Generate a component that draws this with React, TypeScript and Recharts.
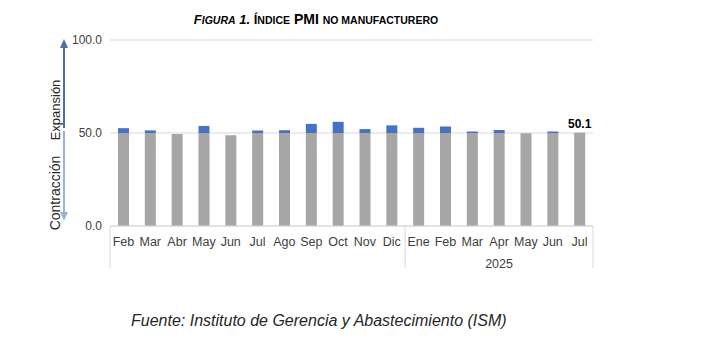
import { Bar, BarChart, CartesianGrid, LabelList, XAxis, YAxis } from "recharts";

const months = ["Feb", "Mar", "Abr", "May", "Jun", "Jul", "Ago", "Sep", "Oct", "Nov", "Dic", "Ene", "Feb", "Mar", "Apr", "May", "Jun", "Jul"];
const pmi = [52.6, 51.4, 49.4, 53.8, 48.8, 51.4, 51.5, 54.9, 56.0, 52.1, 54.1, 52.8, 53.5, 50.8, 51.6, 49.9, 50.8, 50.1];
const yearLabel = "2025";
const yearStart = 11; // Ene
const yTicks = [0, 50, 100];
const threshold = 50;

const W = 718;
const H = 338;
const margin = { top: 40, right: 125, left: 60, bottom: 70 };
const yAxisWidth = 50;
const xAxisHeight = 42;
const plotLeft = margin.left + yAxisWidth;
const plotRight = W - margin.right;
const step = (plotRight - plotLeft) / months.length;
const axisY = H - margin.bottom - xAxisHeight;

const data = months.map((m, i) => ({
  month: m,
  base: Math.min(pmi[i], threshold),
  above: Math.max(pmi[i] - threshold, 0),
  label: i === months.length - 1 ? pmi[i].toFixed(1) : undefined,
}));

function MonthTick(props: any) {
  const { x, y, payload, index } = props;
  const sepTop = axisY;
  const sepBottom = axisY + 42;
  const lines: number[] = [];
  if (index === 0 || index === yearStart) lines.push(x - step / 2);
  if (index === months.length - 1) lines.push(x + step / 2);
  const mid = Math.floor((yearStart + months.length - 1) / 2);
  return (
    <g>
      <text x={x} y={y + 12} textAnchor="middle" fontSize={12.5} fill="#404040" fontFamily="Liberation Sans, Arial, sans-serif">
        {payload.value}
      </text>
      {lines.map((lx) => (
        <line key={lx} x1={lx} x2={lx} y1={sepTop} y2={sepBottom} stroke="#D9D9D9" />
      ))}
      {index === mid && (
        <text x={x} y={y + 34} textAnchor="middle" fontSize={12.5} fill="#404040" fontFamily="Liberation Sans, Arial, sans-serif">
          {yearLabel}
        </text>
      )}
    </g>
  );
}

export default function App() {
  const font = "Liberation Sans, Arial, sans-serif";
  return (
    <div style={{ position: "fixed", left: 0, top: 0, width: W, height: H, background: "#fff", fontFamily: font }}>
      <BarChart width={W} height={H} data={data} margin={margin} barSize={11}>
        <CartesianGrid vertical={false} stroke="#D9D9D9" />
        <XAxis
          dataKey="month"
          interval={0}
          height={xAxisHeight}
          tickLine={false}
          axisLine={{ stroke: "#D9D9D9" }}
          tick={<MonthTick />}
        />
        <YAxis
          domain={[0, 100]}
          ticks={yTicks}
          width={yAxisWidth}
          axisLine={false}
          tickLine={false}
          tickFormatter={(v: number) => v.toFixed(1)}
          tick={{ fontSize: 12, fill: "#404040", fontFamily: font }}
        />
        <Bar dataKey="base" stackId="a" fill="#A6A6A6" isAnimationActive={false} />
        <Bar dataKey="above" stackId="a" fill="#4472C4" isAnimationActive={false}>
          <LabelList dataKey="label" position="top" style={{ fontSize: 12, fontWeight: 700, fill: "#000", fontFamily: font }} />
        </Bar>
      </BarChart>
      <svg width={W} height={H} style={{ position: "absolute", left: 0, top: 0, pointerEvents: "none" }}>
        <line x1={64} y1={128} x2={64} y2={46} stroke="#4F6FA8" strokeWidth={2} />
        <path d="M60,48 L64,39 L68,48 z" fill="#4F6FA8" />
        <line x1={64} y1={131} x2={64} y2={214} stroke="#9CB2D5" strokeWidth={2} />
        <path d="M60,212 L64,221 L68,212 z" fill="#9CB2D5" />
        <text x={0} y={0} transform="translate(60,110) rotate(-90)" textAnchor="middle" fontSize={13} fill="#262626" fontFamily={font}>
          Expansión
        </text>
        <text x={0} y={0} transform="translate(60,193) rotate(-90)" textAnchor="middle" fontSize={14} fill="#262626" fontFamily={font}>
          Contracción
        </text>
        <text x={316} y={24} textAnchor="middle" fontFamily={font} fontWeight={700} fill="#000">
          <tspan fontStyle="italic" fontSize={13}>F</tspan>
          <tspan fontStyle="italic" fontSize={10.5}>IGURA</tspan>
          <tspan fontStyle="italic" fontSize={13}> 1. </tspan>
          <tspan fontSize={13}>Í</tspan>
          <tspan fontSize={10.5}>NDICE</tspan>
          <tspan fontSize={14}>{"  PMI "}</tspan>
          <tspan fontSize={10.5}>NO MANUFACTURERO</tspan>
        </text>
        <text x={131} y={326} fontSize={16} fontStyle="italic" fill="#262626" fontFamily={font}>
          Fuente: Instituto de Gerencia y Abastecimiento (ISM)
        </text>
      </svg>
    </div>
  );
}
